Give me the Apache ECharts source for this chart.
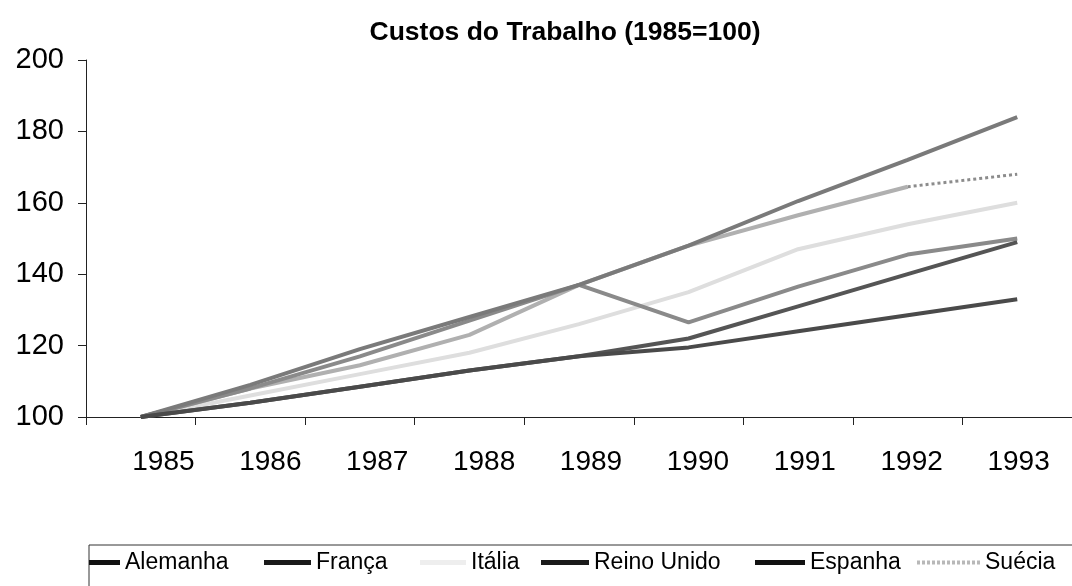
<!DOCTYPE html>
<html>
<head>
<meta charset="utf-8">
<title>Custos do Trabalho</title>
<script src="https://cdn.jsdelivr.net/npm/echarts@6/dist/echarts.min.js"></script>
<style>
html, body { margin: 0; padding: 0; background: #fff; }
#main { width: 1072px; height: 586px; }
</style>
</head>
<body>
<div id="main"></div>
<script>
var years = ['1985', '1986', '1987', '1988', '1989', '1990', '1991', '1992', '1993'];
var yTicks = [100, 120, 140, 160, 180, 200];

var alemanha   = [100, 104, 108.5, 113, 117, 119.5, 124, 128.5, 133];
var franca     = [100, 104, 108.5, 113, 117, 122, 131, 140, 149];
var italia     = [100, 106, 112, 118, 126, 135, 147, 154, 160];
var reinoUnido = [100, 108, 117, 127, 137, 126.5, 136.5, 145.5, 150];
var espanha    = [100, 109, 119, 128, 137, 148, 160.5, 172, 184];
var suecia     = [100, 108, 114.5, 123, 137, 148, 156.5, 164.5, 168];

var font = 'Liberation Sans, Arial, sans-serif';
var myChart = echarts.init(document.getElementById('main'));

// suecia: solid up to 1992, dotted last stretch
var sueciaSolid = suecia.map(function (v, i) { return i < suecia.length - 1 ? v : null; });
var sueciaDots = suecia.map(function (v, i) { return i >= suecia.length - 2 ? v : null; });

function barIcon(w) {
    return 'path://M0,0H' + w + 'V5H0Z';
}
function dotIcon(w) {
    var p = 'path://';
    for (var x = 0; x + 3 <= w; x += 5) {
        p += 'M' + x + ',0H' + (x + 3) + 'V4H' + x + 'Z ';
    }
    return p;
}

function lineSeries(name, data, color, extra) {
    var s = {
        name: name,
        type: 'line',
        data: data,
        symbol: 'none',
        color: color,
        lineStyle: { width: 4, color: color },
        animation: false
    };
    for (var k in extra) s[k] = extra[k];
    return s;
}

function legendItem(name, left, iconW, iconColor, dotted) {
    return {
        data: [name],
        left: left,
        top: 551,
        icon: dotted ? dotIcon(iconW) : barIcon(iconW),
        itemWidth: iconW,
        itemHeight: dotted ? 4 : 5,
        itemGap: 0,
        padding: 0,
        selectedMode: false,
        itemStyle: { color: iconColor, borderWidth: 0 },
        textStyle: { fontSize: 23, color: '#000', fontFamily: font }
    };
}

var option = {
    backgroundColor: '#fff',
    title: {
        text: 'Custos do Trabalho (1985=100)',
        left: 560,
        textAlign: 'center',
        top: 14,
        textStyle: { fontSize: 26.5, fontWeight: 'bold', color: '#000', fontFamily: font }
    },
    legend: [
        legendItem('Alemanha', 89, 31, '#111'),
        legendItem('França', 264, 47, '#1a1a1a'),
        legendItem('Itália', 420, 46, '#eeeeee'),
        legendItem('Reino Unido', 541, 48, '#1a1a1a'),
        legendItem('Espanha', 755, 50, '#111'),
        legendItem('Suécia', 917, 63, '#b8b8b8', true)
    ],
    graphic: [{
        type: 'rect',
        shape: { x: 89, y: 545, width: 1000, height: 60 },
        style: { fill: 'none', stroke: '#333', lineWidth: 1 },
        silent: true
    }],
    grid: [
        { left: 86, top: 60, width: 994, height: 357 },
        { left: 110, top: 60, width: 968, height: 357 }
    ],
    xAxis: [{
        gridIndex: 0,
        type: 'category',
        data: years,
        boundaryGap: true,
        axisLine: { lineStyle: { color: '#222', width: 1 } },
        axisTick: { show: true, length: 8, interval: 0, lineStyle: { color: '#222' } },
        axisLabel: { show: false }
    }, {
        gridIndex: 1,
        type: 'category',
        data: years,
        boundaryGap: true,
        axisLine: { show: false },
        axisTick: { show: false },
        axisLabel: { interval: 0, fontSize: 28, margin: 31, color: '#000', fontFamily: font }
    }],
    yAxis: [{
        gridIndex: 0,
        type: 'value',
        min: yTicks[0],
        max: yTicks[yTicks.length - 1],
        interval: 20,
        axisLine: { show: true, lineStyle: { color: '#222', width: 1 } },
        axisTick: { show: true, length: 8, lineStyle: { color: '#222' } },
        splitLine: { show: false },
        axisLabel: { fontSize: 29, margin: 22, color: '#000', fontFamily: font }
    }, {
        gridIndex: 1,
        type: 'value',
        min: yTicks[0],
        max: yTicks[yTicks.length - 1],
        show: false
    }],
    series: [
        lineSeries('Itália', italia, '#dedede', { z: 1 }),
        lineSeries('Suécia', sueciaSolid, '#b0b0b0', { z: 2 }),
        lineSeries('Suécia', sueciaDots, '#8c8c8c', { z: 3, lineStyle: { width: 3, color: '#8c8c8c', type: 'dotted' } }),
        lineSeries('Reino Unido', reinoUnido, '#8a8a8a', { z: 3 }),
        lineSeries('Espanha', espanha, '#7a7a7a', { z: 4 }),
        lineSeries('França', franca, '#555555', { z: 5 }),
        lineSeries('Alemanha', alemanha, '#4a4a4a', { z: 5 })
    ]
};
myChart.setOption(option);
</script>
</body>
</html>
